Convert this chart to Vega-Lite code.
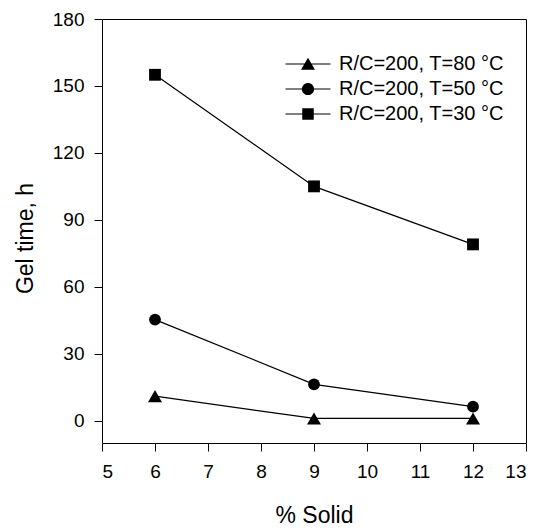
{
  "$schema": "https://vega.github.io/schema/vega-lite/v6.json",
  "width": 424,
  "height": 424,
  "autosize": "none",
  "padding": {"left": 102, "top": 19, "right": 16, "bottom": 85},
  "background": "white",
  "config": {
    "font": "Liberation Sans",
    "view": {"stroke": "black", "strokeWidth": 1},
    "axis": {
      "grid": false,
      "domain": false,
      "tickColor": "black",
      "tickSize": 8,
      "tickWidth": 1,
      "labelColor": "black",
      "labelFontSize": 19,
      "labelFont": "Liberation Sans",
      "titleFont": "Liberation Sans",
      "titleFontSize": 23,
      "titleFontWeight": "normal",
      "titleColor": "black"
    }
  },
  "data": {
    "values": [
      {"series": "R/C=200, T=80 °C", "solid": 6, "gel": 11},
      {"series": "R/C=200, T=80 °C", "solid": 9, "gel": 1},
      {"series": "R/C=200, T=80 °C", "solid": 12, "gel": 1},
      {"series": "R/C=200, T=50 °C", "solid": 6, "gel": 45.3},
      {"series": "R/C=200, T=50 °C", "solid": 9, "gel": 16.3},
      {"series": "R/C=200, T=50 °C", "solid": 12, "gel": 6.3},
      {"series": "R/C=200, T=30 °C", "solid": 6, "gel": 155},
      {"series": "R/C=200, T=30 °C", "solid": 9, "gel": 105},
      {"series": "R/C=200, T=30 °C", "solid": 12, "gel": 79}
    ]
  },
  "encoding": {
    "x": {
      "field": "solid",
      "type": "quantitative",
      "scale": {"domain": [5, 13], "nice": false, "zero": false},
      "axis": {"values": [5, 6, 7, 8, 9, 10, 11, 12, 13], "title": "% Solid", "labelPadding": 11, "titleY": 79, "titleBaseline": "alphabetic"}
    },
    "y": {
      "field": "gel",
      "type": "quantitative",
      "scale": {"domain": [-10, 180], "nice": false, "zero": false},
      "axis": {"values": [0, 30, 60, 90, 120, 150, 180], "title": "Gel time, h", "labelPadding": 10, "titleX": -70, "titleY": 219, "titleBaseline": "alphabetic", "titleAlign": "center", "titleAngle": -90}
    }
  },
  "layer": [
    {
      "mark": {"type": "line", "color": "black", "strokeWidth": 1.2},
      "encoding": {"detail": {"field": "series"}}
    },
    {
      "mark": {"type": "point", "filled": true, "opacity": 0, "color": "black", "strokeWidth": 0},
      "encoding": {
        "shape": {
          "field": "series",
          "type": "nominal",
          "scale": {
            "domain": ["R/C=200, T=80 °C", "R/C=200, T=50 °C", "R/C=200, T=30 °C"],
            "range": [
              "M-3.75,-0.1H3.75V0.1H-3.75ZM0,-1.05L1.17,0.95L-1.17,0.95Z",
              "M-3.75,-0.1H3.75V0.1H-3.75ZM-1.02,0A1.02,1.02 0 1,1 1.02,0A1.02,1.02 0 1,1 -1.02,0Z",
              "M-3.75,-0.1H3.75V0.1H-3.75ZM-0.96,-0.96H0.96V0.96H-0.96Z"
            ]
          },
          "legend": {
            "orient": "none",
            "legendX": 196,
            "legendY": 35,
            "title": null,
            "padding": 0,
            "labelFontSize": 20,
            "labelFont": "Liberation Sans",
            "labelColor": "black",
            "labelLimit": 0,
            "labelOffset": 21,
            "rowPadding": 5,
            "symbolSize": 144,
            "symbolFillColor": "black",
            "symbolStrokeWidth": 0,
            "symbolOpacity": 1
          }
        }
      }
    },
    {
      "mark": {"type": "point", "filled": true, "opacity": 1, "color": "black", "strokeWidth": 0},
      "encoding": {
        "shape": {
          "condition": [
            {"test": "datum.series === 'R/C=200, T=80 °C'", "value": "triangle-up"},
            {"test": "datum.series === 'R/C=200, T=50 °C'", "value": "circle"}
          ],
          "value": "square"
        },
        "size": {
          "condition": {"test": "datum.series === 'R/C=200, T=80 °C'", "value": 196},
          "value": 140
        }
      }
    }
  ]
}
